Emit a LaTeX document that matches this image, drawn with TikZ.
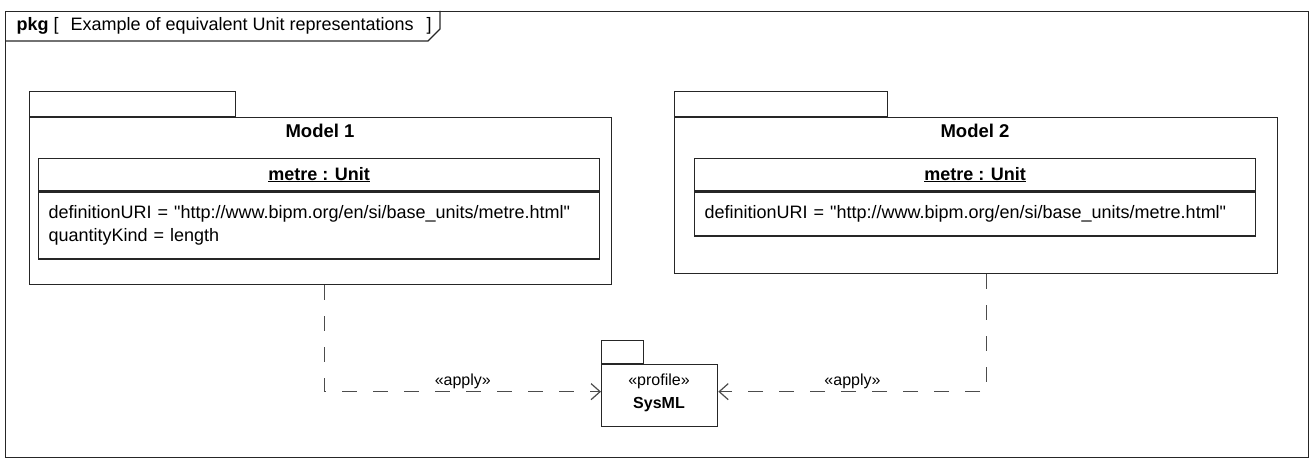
\documentclass[tikz,border=0pt]{standalone}
\usepackage{fontspec}
\setmainfont{Liberation Sans}
\usetikzlibrary{arrows.meta,positioning}

\begin{document}
\begin{tikzpicture}[
  x=1pt, y=-1pt,
  font=\fontsize{18}{23}\selectfont,
  frm/.style={rectangle,draw=black!85,line width=1.3pt,anchor=north west,inner sep=0pt},
  pkgbody/.style={frm},
  pkgtab/.style={frm,anchor=south west},
  objhead/.style={frm,font=\fontsize{18}{23}\selectfont\bfseries},
  objattr/.style={frm,align=left,inner xsep=10pt},
  lbl/.style={font=\fontsize{16}{19}\selectfont,inner sep=2pt},
  dep/.style={draw=black!70,line width=1.2pt,dash pattern=on 15pt off 16pt,
              -{Straight Barb[length=9pt,width=16pt]}}
]
\useasboundingbox (0,0) rectangle (1310,462);

% diagram frame and its header
\node[frm,minimum width=1303pt,minimum height=446pt] (frame) at (5,11) {};
\draw[black!85,line width=1.3pt] (frame.north west |- 0,41) -- (428,41) -- (440,29) -- (440,11);
\node[anchor=west] (hdr) at (13,26)
  {\textbf{pkg} [\hspace{12pt}Example of equivalent Unit representations\hspace{13pt}]};

% Model 1
\node[pkgbody,minimum width=582pt,minimum height=167pt] (m1) at (29,117) {};
\node[pkgtab,minimum width=206pt,minimum height=25pt] (m1tab) at (m1.north west) {};
\node[font=\fontsize{18.5}{23}\selectfont\bfseries] (m1t) at (320,131) {Model 1};
\node[objhead,minimum width=561pt,minimum height=32pt] (u1h) at (38,158) {\underline{metre : Unit}};
\node[objattr,minimum width=561pt,minimum height=67pt,text width=541pt] (u1a) at (u1h.south west)
  {definitionURI = \textquotedbl http://www.bipm.org/en/si/base\_units/metre.html\textquotedbl\\ quantityKind = length\\[2pt]};

% Model 2
\node[pkgbody,minimum width=603pt,minimum height=156pt] (m2) at (674,117) {};
\node[pkgtab,minimum width=213pt,minimum height=25pt] (m2tab) at (m2.north west) {};
\node[font=\fontsize{18.5}{23}\selectfont\bfseries] (m2t) at (975,131) {Model 2};
\node[objhead,minimum width=561pt,minimum height=32pt] (u2h) at (694,158) {\underline{metre : Unit}};
\node[objattr,minimum width=561pt,minimum height=44pt,text width=541pt] (u2a) at (u2h.south west)
  {definitionURI = \textquotedbl http://www.bipm.org/en/si/base\_units/metre.html\textquotedbl};

% SysML profile
\node[pkgbody,minimum width=116pt,minimum height=62pt] (sys) at (601,364) {};
\node[pkgtab,minimum width=42pt,minimum height=23pt] (systab) at (sys.north west) {};
\node[lbl] (sysst) at (659,381) {«profile»};
\node[lbl,font=\fontsize{16}{19}\selectfont\bfseries] (sysn) at (659,405) {SysML};

% apply dependencies
\draw[dep] ([xshift=4pt]m1.south) |- node[lbl,above,pos=0.75] {«apply»} ([yshift=4pt]sys.west);
\draw[dep] ([xshift=10.5pt]m2.south) |- node[lbl,above,pos=0.75] {«apply»} ([yshift=4pt]sys.east);
\end{tikzpicture}
\end{document}
